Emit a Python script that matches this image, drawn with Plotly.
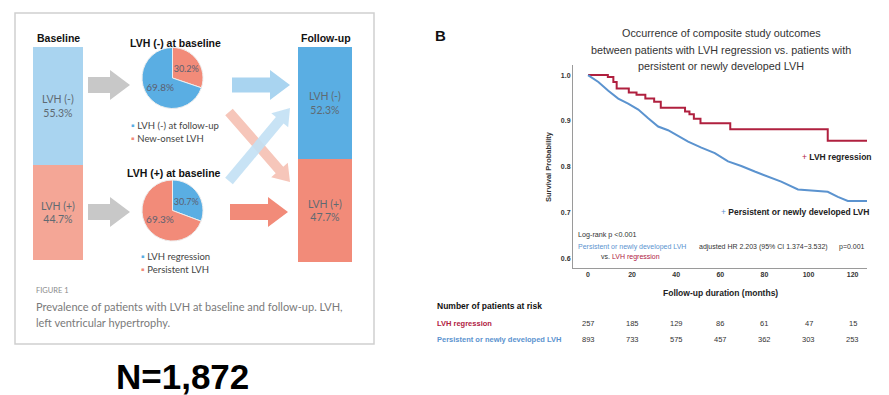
import math
import plotly.graph_objects as go

W, H = 889, 395

# ---------------- data ----------------
baseline_labels = ["LVH (+)", "LVH (-)"]
baseline_values = [44.7, 55.3]
followup_labels = ["LVH (+)", "LVH (-)"]
followup_values = [47.7, 52.3]

pie_neg_labels = ["New-onset LVH", "LVH (-) at follow-up"]
pie_neg_values = [30.2, 69.8]
pie_pos_labels = ["LVH regression", "Persistent LVH"]
pie_pos_values = [30.7, 69.3]

km_reg_t = [0, 9, 11.5, 13, 18.5, 22, 26, 30, 33, 44, 46, 48, 51, 64.5, 108.7, 126.5]
km_reg_s = [1.0, 0.996, 0.985, 0.971, 0.962, 0.957, 0.949, 0.942, 0.929, 0.921, 0.915, 0.905, 0.895, 0.882, 0.857, 0.857]

km_per_t = [0, 1, 4.7, 9.2, 13.7, 18.2, 22.8, 27.3, 31.8, 36.3, 40.9, 45.4, 51.4, 57.5, 63.5,
            69.5, 75.6, 81.6, 87.6, 95.2, 104.2, 108.7, 113.3, 117.8, 126.5]
km_per_s = [1.0, 0.997, 0.985, 0.966, 0.949, 0.938, 0.925, 0.906, 0.888, 0.880, 0.867, 0.855, 0.842, 0.830, 0.812,
            0.802, 0.790, 0.779, 0.768, 0.751, 0.748, 0.746, 0.735, 0.726, 0.726]

km_yticks = [0.6, 0.7, 0.8, 0.9, 1.0]
risk_times = [0, 20, 40, 60, 80, 100, 120]
risk_reg = [257, 185, 129, 86, 61, 47, 15]
risk_per = [893, 733, 575, 457, 362, 303, 253]

# ---------------- styles ----------------
BLUE = "#5aaee3"
SALMON = "#f28b79"
LBLUE = "#a9d4f0"
LSALMON = "#f4a696"
GREY_ARROW = "#c8c8c8"
PALE_SALMON = "#f6c6ba"
PALE_BLUE = "#c2e0f4"
KRED = "#b0203f"
KBLUE = "#5b93cf"
SANS = "Liberation Sans, Arial, sans-serif"
BODY = "Lato, Open Sans, sans-serif"


def X(px):
    return px / W


def Y(py):
    return 1 - py / H


fig = go.Figure()

# ---------------- stacked bars ----------------
for vals, labs, cols, ax in [
    (baseline_values, baseline_labels, [LSALMON, LBLUE], "2"),
    (followup_values, followup_labels, [SALMON, BLUE], "3"),
]:
    for v, lab, c in zip(vals, labs, cols):
        fig.add_trace(go.Bar(
            x=[0], y=[v], width=1, marker=dict(color=c, line=dict(width=0)),
            text=[f"{lab}<br>{v}%"], textposition="inside", insidetextanchor="middle",
            textangle=0, textfont=dict(size=10.5, color="#5f6a72", family=BODY),
            xaxis="x" + ax, yaxis="y" + ax, hoverinfo="skip", showlegend=False))

# ---------------- pies ----------------
for vals, labs, cols, cy in [
    (pie_neg_values, pie_neg_labels, [SALMON, BLUE], 78),
    (pie_pos_values, pie_pos_labels, [BLUE, SALMON], 210.5),
]:
    fig.add_trace(go.Pie(
        values=vals, labels=labs, sort=False, direction="clockwise", rotation=0,
        marker=dict(colors=cols, line=dict(color="#eeeeee", width=1)),
        texttemplate="%{value:.1f}%", textposition="inside", insidetextorientation="horizontal",
        textfont=dict(size=10, color="#5c6070", family=BODY),
        domain=dict(x=[X(172.5 - 30.5), X(172.5 + 30.5)], y=[Y(cy + 30.5), Y(cy - 30.5)]),
        hoverinfo="skip", showlegend=False))

# ---------------- KM curves ----------------
fig.add_trace(go.Scatter(x=km_reg_t, y=km_reg_s, mode="lines",
                         line=dict(color=KRED, width=2, shape="hv"),
                         xaxis="x", yaxis="y", hoverinfo="skip", showlegend=False))
fig.add_trace(go.Scatter(x=km_per_t, y=km_per_s, mode="lines",
                         line=dict(color=KBLUE, width=2),
                         xaxis="x", yaxis="y", hoverinfo="skip", showlegend=False))

# ---------------- shapes ----------------
shapes = [dict(type="rect", xref="paper", yref="paper", x0=X(15), x1=X(374), y0=Y(344), y1=Y(13),
               line=dict(color="#d0d0d0", width=1.5), fillcolor="rgba(0,0,0,0)", layer="below")]


def block_arrow(x0, y0, x1, y1, bw, hw, hl, color, opacity=1.0):
    L = math.hypot(x1 - x0, y1 - y0)
    ux, uy = (x1 - x0) / L, (y1 - y0) / L
    nx, ny = -uy, ux
    bx, by = x0 + ux * (L - hl), y0 + uy * (L - hl)
    pts = [(x0 + nx * bw, y0 + ny * bw), (bx + nx * bw, by + ny * bw), (bx + nx * hw, by + ny * hw),
           (x1, y1), (bx - nx * hw, by - ny * hw), (bx - nx * bw, by - ny * bw), (x0 - nx * bw, y0 - ny * bw)]
    path = "M " + " L ".join(f"{X(px):.5f},{Y(py):.5f}" for px, py in pts) + " Z"
    return dict(type="path", xref="paper", yref="paper", path=path, fillcolor=color,
                line=dict(width=0), opacity=opacity, layer="above")


shapes += [
    block_arrow(88, 85, 130, 85, 8, 15, 20, GREY_ARROW),
    block_arrow(88, 212, 130, 212, 8, 15, 20, GREY_ARROW),
    block_arrow(232, 85, 290, 85, 7.5, 15, 20, LBLUE),
    block_arrow(230, 212, 288, 212, 8, 15, 20, SALMON),
    block_arrow(229, 112, 290, 182, 5, 11, 16, PALE_SALMON),
    block_arrow(229, 181, 290, 108, 5, 11, 16, PALE_BLUE, 0.9),
]

# ---------------- text ----------------
ann = []


def T(x, y, text, size, color="#222", anchor="center", family=SANS, angle=0, xref="paper"):
    ann.append(dict(x=(x if xref == "x" else X(x)), y=Y(y), xref=xref, yref="paper", text=text,
                    showarrow=False, xanchor=anchor, yanchor="middle", textangle=angle,
                    font=dict(size=size, color=color, family=family)))


# left panel
T(59, 38, "<b>Baseline</b>", 10.5, "#111")
T(175, 43, "<b>LVH (-) at baseline</b>", 10.5, "#111")
T(326, 38, "<b>Follow-up</b>", 10.5, "#111")
T(174, 173, "<b>LVH (+) at baseline</b>", 10.5, "#111")
T(129, 126, f"<span style='color:{BLUE}'>▪</span> {pie_neg_labels[1]}", 9.5, "#444", "left", BODY)
T(129, 138, f"<span style='color:{SALMON}'>▪</span> {pie_neg_labels[0]}", 9.5, "#444", "left", BODY)
T(139, 256, f"<span style='color:{BLUE}'>▪</span> {pie_pos_labels[0]}", 9.5, "#444", "left", BODY)
T(139, 269, f"<span style='color:{SALMON}'>▪</span> {pie_pos_labels[1]}", 9.5, "#444", "left", BODY)
T(34, 290, "FIGURE 1", 7.5, "#8a8a8a", "left", BODY)
T(34, 306, "Prevalence of patients with LVH at baseline and follow-up. LVH,", 11, "#7a7a7a", "left", BODY)
T(34, 322, "left ventricular hypertrophy.", 11, "#7a7a7a", "left", BODY)
T(182, 376, "<b>N=1,872</b>", 35, "#000")

# right panel
T(440, 35, "<b>B</b>", 15, "#111")
T(721, 33, "Occurrence of composite study outcomes", 10.8, "#333")
T(721, 50, "between patients with LVH regression vs. patients with", 10.8, "#333")
T(721, 66, "persistent or newly developed LVH", 10.8, "#333")
T(548, 167, "<b>Survival Probability</b>", 7.5, "#333", angle=-90)
T(720, 293, "<b>Follow-up duration (months)</b>", 8.5, "#222")
T(800, 157, f"<span style='color:{KRED}'>+</span> <b>LVH regression</b>", 8.5, "#222", "left")
T(719, 212, f"<span style='color:{KBLUE}'>+</span> <b>Persistent or newly developed LVH</b>", 8.5, "#222", "left")
T(576, 235, "Log-rank p &lt;0.001", 7.2, "#333", "left")
T(576, 247, f"<span style='color:{KBLUE}'>Persistent or newly developed LVH</span>", 7.0, "#333", "left")
T(697, 247, "adjusted HR 2.203 (95% CI 1.374~3.532)", 7.0, "#333", "left")
T(837, 247, "p=0.001", 7.0, "#333", "left")
T(599, 257, f"vs. <span style='color:{KRED}'>LVH regression</span>", 7.0, "#333", "left")

# at-risk table
T(435, 306, "<b>Number of patients at risk</b>", 8.5, "#111", "left")
T(435, 323, "<b>LVH regression</b>", 7.5, KRED, "left")
T(435, 339, "<b>Persistent or newly developed LVH</b>", 7.5, KBLUE, "left")
for t, a, b in zip(risk_times, risk_reg, risk_per):
    T(t, 323, str(a), 7.5, "#333", xref="x")
    T(t, 339, str(b), 7.5, "#333", xref="x")

fig.update_layout(
    width=W, height=H, autosize=False, margin=dict(l=0, r=0, t=0, b=0),
    paper_bgcolor="white", plot_bgcolor="white", showlegend=False, barmode="stack", bargap=0,
    font=dict(family=SANS),
    shapes=shapes, annotations=ann,
    xaxis=dict(domain=[X(573), X(867)], range=[-6.8, 126.5], tickvals=risk_times, ticks="",
               showline=True, linecolor="#9a9a9a", linewidth=1, showgrid=False, zeroline=False,
               tickfont=dict(size=7, color="#333", weight="bold"), anchor="y", fixedrange=True),
    yaxis=dict(domain=[Y(268), Y(65)], range=[0.58, 1.022], tickvals=km_yticks, tickformat=".1f",
               ticks="", showline=True, linecolor="#9a9a9a", linewidth=1, showgrid=False,
               zeroline=False, tickfont=dict(size=7, color="#333", weight="bold"), anchor="x",
               fixedrange=True),
    xaxis2=dict(domain=[X(33), X(83)], range=[-0.5, 0.5], visible=False, anchor="y2"),
    yaxis2=dict(domain=[Y(260), Y(47)], range=[0, 100], visible=False, anchor="x2"),
    xaxis3=dict(domain=[X(298), X(352)], range=[-0.5, 0.5], visible=False, anchor="y3"),
    yaxis3=dict(domain=[Y(262), Y(47)], range=[0, 100], visible=False, anchor="x3"),
)

fig.write_html("out.html", config={"displayModeBar": False},
               post_script="document.body.style.margin='0';document.body.style.overflow='hidden';")
